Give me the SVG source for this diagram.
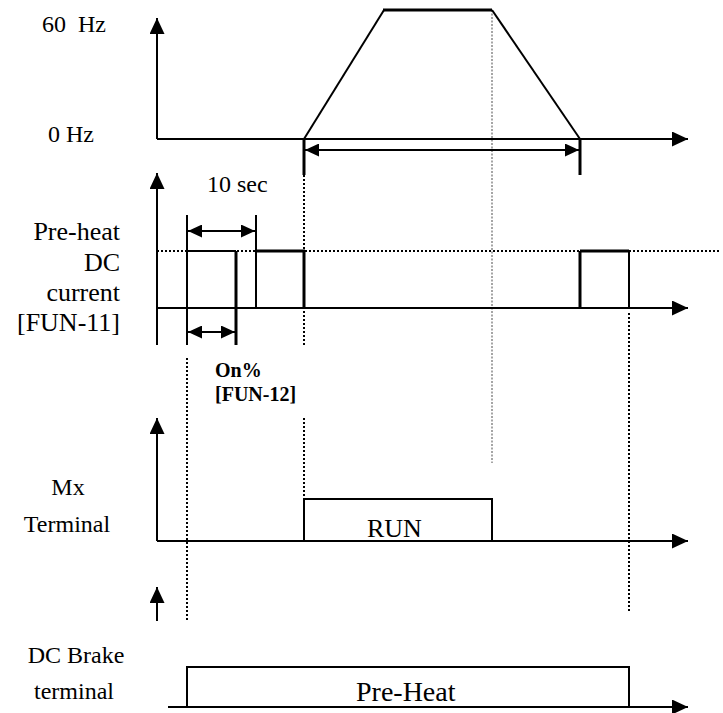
<svg xmlns="http://www.w3.org/2000/svg" width="723" height="713" viewBox="0 0 723 713">
<style>
text{font-family:"Liberation Serif","Times New Roman",serif;fill:#000}
.lbl{font-size:24px}
.b{font-weight:bold;font-size:20px}
.ax{stroke:#000;stroke-width:2;fill:none}
.th{stroke:#000;stroke-width:3;fill:none}
.tn{stroke:#000;stroke-width:2;fill:none}
.dot{stroke:#000;stroke-width:2;stroke-dasharray:2 2;fill:none}
.gdot{stroke:#888;stroke-width:1.5;stroke-dasharray:2 1.5;fill:none}
</style>
<defs>
<marker id="ah" markerWidth="16" markerHeight="15" refX="16" refY="7.5" orient="auto" markerUnits="userSpaceOnUse">
<path d="M0,0 L16,7.5 L0,15 Z" fill="#000"/>
</marker>
<marker id="as" markerWidth="14" markerHeight="13" refX="14" refY="6.5" orient="auto-start-reverse" markerUnits="userSpaceOnUse">
<path d="M0,0 L14,6.5 L0,13 Z" fill="#000"/>
</marker>
</defs>

<g id="guides">
<line class="gdot" x1="492" y1="10" x2="492" y2="463"/>
<line class="dot" x1="304" y1="175" x2="304" y2="347"/>
<line class="dot" x1="304" y1="418" x2="304" y2="499"/>
<line class="dot" x1="187" y1="358" x2="187" y2="621"/>
<line class="dot" x1="629" y1="313" x2="629" y2="613"/>
<line class="dot" x1="157" y1="251" x2="720" y2="251"/>
</g>

<g id="freq">
<line class="ax" x1="157" y1="139" x2="157" y2="18" marker-end="url(#ah)"/>
<line class="ax" x1="157" y1="139" x2="688" y2="139" marker-end="url(#ah)"/>
<polyline class="tn" points="304,139 384,10"/>
<line class="th" x1="383" y1="10" x2="492" y2="10"/>
<polyline class="tn" points="492,10 580,139"/>
<line class="th" x1="304" y1="139" x2="304" y2="175"/>
<line class="th" x1="580" y1="139" x2="580" y2="175"/>
<line class="ax" x1="305" y1="150" x2="579" y2="150" marker-start="url(#as)" marker-end="url(#as)"/>
<text class="lbl" x="42" y="32" xml:space="preserve">60  Hz</text>
<text class="lbl" x="48" y="142">0 Hz</text>
</g>

<g id="preheat">
<line class="ax" x1="157" y1="345" x2="157" y2="173" marker-end="url(#ah)"/>
<line class="ax" x1="157" y1="308" x2="688" y2="308" marker-end="url(#ah)"/>
<line class="tn" x1="187" y1="215" x2="187" y2="345"/>
<line class="tn" x1="187" y1="251" x2="236" y2="251"/>
<line class="th" x1="236" y1="251" x2="236" y2="345"/>
<line class="tn" x1="256" y1="215" x2="256" y2="308"/>
<line class="th" x1="256" y1="251" x2="305" y2="251"/>
<line class="th" x1="304" y1="251" x2="304" y2="308"/>
<line class="th" x1="580" y1="251" x2="580" y2="308"/>
<line class="th" x1="580" y1="251" x2="629" y2="251"/>
<line class="tn" x1="629" y1="251" x2="629" y2="308"/>
<line class="ax" x1="188" y1="231" x2="255" y2="231" marker-start="url(#as)" marker-end="url(#as)"/>
<line class="ax" x1="188" y1="332" x2="235" y2="332" marker-start="url(#as)" marker-end="url(#as)"/>
<text class="lbl" x="207" y="192">10 sec</text>
<text class="lbl" x="120" y="240" text-anchor="end" style="font-size:26px">Pre-heat</text>
<text class="lbl" x="120" y="271" text-anchor="end" style="font-size:26px">DC</text>
<text class="lbl" x="120" y="301" text-anchor="end" style="font-size:26px">current</text>
<text class="lbl" x="120" y="331" text-anchor="end" style="font-size:26px">[FUN-11]</text>
<text class="b" x="215" y="377">On%</text>
<text class="b" x="215" y="401">[FUN-12]</text>
</g>

<g id="mx">
<line class="ax" x1="157" y1="541" x2="157" y2="418" marker-end="url(#ah)"/>
<line class="ax" x1="157" y1="541" x2="688" y2="541" marker-end="url(#ah)"/>
<polyline class="tn" points="304,541 304,499 492,499 492,541"/>
<text class="lbl" x="367" y="537" style="font-size:26px">RUN</text>
<text class="lbl" x="68" y="495" text-anchor="middle">Mx</text>
<text class="lbl" x="67" y="532" text-anchor="middle">Terminal</text>
</g>

<g id="dcbrake">
<line class="ax" x1="157" y1="621" x2="157" y2="587" marker-end="url(#ah)"/>
<line class="ax" x1="168" y1="707" x2="688" y2="707" marker-end="url(#ah)"/>
<polyline class="tn" points="187,707 187,667 629,667 629,707"/>
<text class="lbl" x="356" y="701" style="font-size:28px">Pre-Heat</text>
<text class="lbl" x="76" y="663" text-anchor="middle">DC Brake</text>
<text class="lbl" x="74" y="699" text-anchor="middle">terminal</text>
</g>
</svg>
